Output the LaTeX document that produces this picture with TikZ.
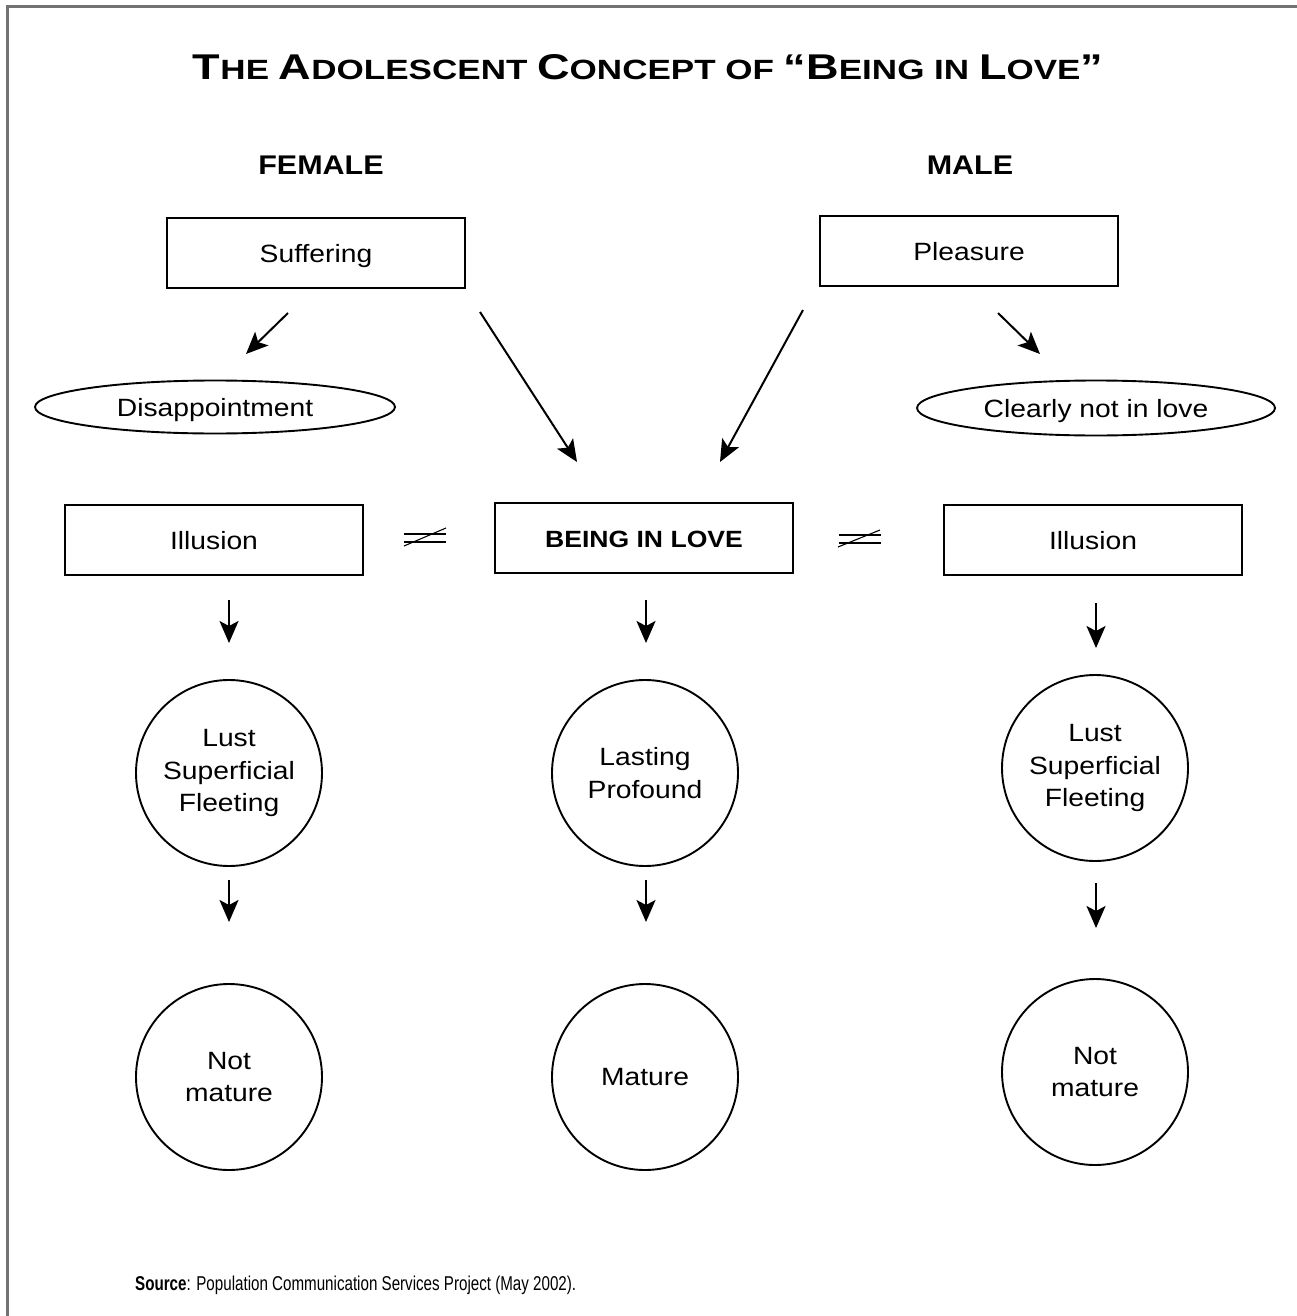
\documentclass[tikz,border=0pt]{standalone}
\usepackage{fontspec}
\usepackage{graphicx}
\setmainfont{Liberation Sans}
\newfontfamily\hv[FakeStretch=1.13]{Liberation Sans}
\usetikzlibrary{shapes.geometric,arrows.meta}
\newcommand\tcap[1]{{\fontsize{36}{40}\selectfont #1}}
\tikzset{
  lw/.style={line width=1.9pt},
  boxnode/.style={draw, lw, minimum width=298pt, minimum height=70pt, inner sep=0pt, text height=18pt, text depth=0pt, font=\hv\fontsize{25}{30}\selectfont},
  ovalnode/.style={draw, ellipse, lw, inner sep=0pt, text height=18pt, text depth=0pt, font=\hv\fontsize{25}{30}\selectfont},
  circnode/.style={draw, circle, lw, minimum size=186pt, inner sep=0pt, align=center, font=\hv\fontsize{25}{32.5}\selectfont},
  head/.style={font=\hv\bfseries\fontsize{27}{30}\selectfont},
  arr/.style={line width=2pt, -{Stealth[length=22pt,width=19pt,inset=5pt]}},
  neqline/.style={line width=2.6pt},
  neqslash/.style={line width=1.1pt},
  frame/.style={draw=black!55, line width=3pt}
}
\begin{document}
\begin{tikzpicture}[x=1pt,y=-1pt]
\useasboundingbox (0,0) rectangle (1297,1316);
\draw[frame] (7,1316) -- (7,7) -- (1297,7);

\node (title) at (648,67) {\resizebox{910pt}{25pt}{\bfseries\fontsize{28}{30}\selectfont \tcap{T}HE \tcap{A}DOLESCENT \tcap{C}ONCEPT OF \tcap{“B}EING IN \tcap{L}OVE\tcap{”}}};

\node[head] (female) at (321,165) {FEMALE};
\node[head] (male) at (970,165) {MALE};

\node[boxnode] (suf) at (316,253) {Suffering};
\node[boxnode] (plea) at (969,251) {Pleasure};

\node[ovalnode, minimum width=360pt, minimum height=53pt] (dis) at (215,407) {Disappointment};
\node[ovalnode, minimum width=358pt, minimum height=55pt] (cnl) at (1096,408) {Clearly not in love};

\node[boxnode] (illL) at (214,540) {Illusion};
\node[boxnode, font=\hv\bfseries\fontsize{23.5}{28}\selectfont] (bil) at (644,538) {BEING IN LOVE};
\node[boxnode] (illR) at (1093,540) {Illusion};

% not-equal signs
\draw[neqline] (404,534) -- (446,534) (404,542) -- (446,542);
\draw[neqslash] (404,546) -- (446,528);
\draw[neqline] (839,535) -- (881,535) (839,543) -- (881,543);
\draw[neqslash] (838,547) -- (880,530);

\node[circnode] (c1L) at (229,773) {Lust\\Superficial\\Fleeting};
\node[circnode] (c1C) at (645,773) {Lasting\\Profound};
\node[circnode] (c1R) at (1095,768) {Lust\\Superficial\\Fleeting};

\node[circnode] (c2L) at (229,1077) {Not\\mature};
\node[circnode] (c2C) at (645,1077) {Mature};
\node[circnode] (c2R) at (1095,1072) {Not\\mature};

% arrow end points
\coordinate (a1s) at (288,313); \coordinate (a1e) at (246,354);
\coordinate (a2s) at (480,312); \coordinate (a2e) at (577,462);
\coordinate (a3s) at (803,310); \coordinate (a3e) at (720,462);
\coordinate (a4s) at (998,313); \coordinate (a4e) at (1040,354);
\coordinate (d1Ls) at (229,600); \coordinate (d1Le) at (229,643);
\coordinate (d1Cs) at (646,600); \coordinate (d1Ce) at (646,643);
\coordinate (d1Rs) at (1096,603); \coordinate (d1Re) at (1096,648);
\coordinate (d2Ls) at (229,880); \coordinate (d2Le) at (229,922);
\coordinate (d2Cs) at (646,880); \coordinate (d2Ce) at (646,922);
\coordinate (d2Rs) at (1096,883); \coordinate (d2Re) at (1096,928);

\draw[arr] (a1s) -- (a1e);
\draw[arr] (a2s) -- (a2e);
\draw[arr] (a3s) -- (a3e);
\draw[arr] (a4s) -- (a4e);
\draw[arr] (d1Ls) -- (d1Le);
\draw[arr] (d1Cs) -- (d1Ce);
\draw[arr] (d1Rs) -- (d1Re);
\draw[arr] (d2Ls) -- (d2Le);
\draw[arr] (d2Cs) -- (d2Ce);
\draw[arr] (d2Rs) -- (d2Re);

\node[anchor=base west, inner sep=0pt] (src) at (135,1290) {\resizebox{441pt}{\height}{\fontsize{20}{22}\selectfont\textbf{Source}: Population Communication Services Project (May 2002).}};
\end{tikzpicture}
\end{document}
